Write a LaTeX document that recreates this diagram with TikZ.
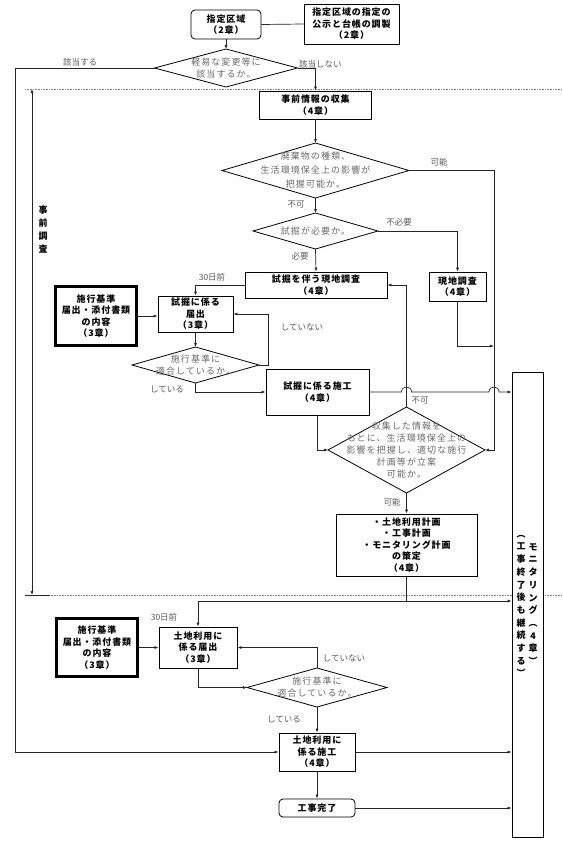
\documentclass[tikz,border=0pt]{standalone}
\usepackage{fontspec}
\setmainfont{Noto Sans CJK JP}
\newfontfamily\jpbox{Noto Sans CJK JP}[LetterSpace=10]
\newfontfamily\jpdia{Noto Sans CJK JP}[LetterSpace=12]
\usetikzlibrary{arrows.meta,calc}
\definecolor{diagray}{HTML}{6A6A6A}
\definecolor{labgray}{HTML}{5A5A5A}
\definecolor{linegray}{HTML}{262626}
\newcommand\mydiamond[6]{%
  \coordinate (#1n) at (#2,{#3-#5/2});
  \coordinate (#1s) at (#2,{#3+#5/2});
  \coordinate (#1w) at ({#2-#4/2},#3);
  \coordinate (#1e) at ({#2+#4/2},#3);
  \draw[diaframe] (#1n)--(#1e)--(#1s)--(#1w)--cycle;
  \node[diatext] (#1) at (#2,#3) {#6};
}
\begin{document}
\begin{tikzpicture}[x=1pt,y=-1pt,
 pbox/.style={draw=black, line width=0.8pt, fill=white, align=center, inner sep=0pt, font=\jpbox\bfseries\fontsize{9}{11.5}\selectfont},
 thickbox/.style={pbox, line width=2.2pt},
 rbox/.style={pbox, rounded corners=4pt},
 diaframe/.style={draw=black, line width=0.8pt},
 diatext/.style={align=center, inner sep=0pt, text=diagray, font=\jpdia\fontsize{9}{12}\selectfont},
 lab/.style={inner sep=0pt, text=labgray, font=\fontsize{8.5}{10}\selectfont},
 conn/.style={draw=linegray, line width=0.7pt},
 arr/.style={conn, -{Latex[length=4pt,width=3pt]}},
 dotline/.style={draw=gray, line width=0.6pt, dash pattern=on 0.8pt off 0.8pt},
 vtext/.style={align=center, inner sep=0pt, font=\bfseries\fontsize{9}{12.7}\selectfont}
]
\fill[white] (0,0) rectangle (562,843);
\useasboundingbox (0,0) rectangle (562,843);

% dotted separators
\draw[dotline] (25,89) -- (562,89);
\draw[dotline] (25,595) -- (562,595);
\draw[conn] (25,595) -- (50,595);

% boxes
\node[rbox, minimum width=70pt, minimum height=29pt] (n1) at (226,24.5) {指定区域\\（2章）};
\node[pbox, minimum width=95pt, minimum height=40pt] (n2) at (351.5,24) {指定区域の指定の\\公示と台帳の調製\\（2章）};
\node[pbox, minimum width=112pt, minimum height=28pt] (n3) at (315.5,105) {事前情報の収集\\（4章）};
\node[pbox, minimum width=142pt, minimum height=26pt] (n4) at (316,285) {試掘を伴う現地調査\\（4章）};
\node[pbox, minimum width=57pt, minimum height=29pt] (n5) at (457.5,286.5) {現地調査\\（4章）};
\node[pbox, minimum width=75pt, minimum height=36pt] (n6) at (195.5,314) {試掘に係る\\届出\\（3章）};
\node[thickbox, minimum width=81pt, minimum height=59pt] (n7) at (96,316) {施行基準\\届出・添付書類\\の内容\\（3章）};
\node[pbox, minimum width=103pt, minimum height=46pt] (n8) at (317.5,392) {試掘に係る施工\\（4章）};
\node[pbox, minimum width=141pt, minimum height=62pt] (n9) at (406.5,545) {・土地利用計画\\・工事計画\\・モニタリング計画\\の策定\\（4章）};
\node[pbox, minimum width=78pt, minimum height=41pt] (n10) at (198,647.5) {土地利用に\\係る届出\\（3章）};
\node[thickbox, minimum width=81pt, minimum height=58pt] (n11) at (97,647.5) {施行基準\\届出・添付書類\\の内容\\（3章）};
\node[pbox, minimum width=76pt, minimum height=38pt] (n12) at (317,752) {土地利用に\\係る施工\\（4章）};
\node[rbox, minimum width=76pt, minimum height=18pt] (n13) at (317,808) {工事完了};
\node[pbox, minimum width=31pt, minimum height=465pt] (mon) at (527.5,604.5) {};
\node[vtext] (monR) at (533,604) {モ\\ニ\\タ\\リ\\ン\\グ\\︵\\4\\章\\︶};
\node[vtext] (monL) at (521,606) {︵\\工\\事\\終\\了\\後\\も\\継\\続\\す\\る\\︶};
\node[vtext, font=\bfseries\fontsize{9}{13}\selectfont] (jizen) at (43,229.5) {事\\前\\調\\査};

% diamonds
\mydiamond{d1}{226}{68}{143}{38}{軽易な変更等に\\該当するか。}
\mydiamond{d2}{315.5}{170.5}{187}{55}{廃棄物の種類、\\[2pt]生活環境保全上の影響が\\[2pt]把握可能か。}
\mydiamond{d3}{315.5}{231}{125}{36}{試掘が必要か。}
\mydiamond{d4}{195.5}{365}{127}{36}{施行基準に\\適合しているか。}
\mydiamond{d5}{406.5}{450}{157}{86}{収集した情報を\\もとに、生活環境保全上の\\影響を把握し、適切な施行\\計画等が立案\\可能か。}
\mydiamond{d6}{317}{687.5}{140}{39}{施行基準に\\適合しているか。}

% helper coordinates
\coordinate (cL) at (15,68);
\coordinate (cR2) at (494,170.5);
\coordinate (cJ) at (494,346);
\coordinate (cR4) at (268,365);
\coordinate (cA) at (198,601);
\coordinate (cT) at (32,89);
\coordinate (cB) at (32,595);

% connectors
\draw[conn] (n1.east) -- (n2.west);
\draw[arr] (n1.south) -- (d1n);
\draw[arr] (d1w) -- (cL) |- (n12.west);
\draw[arr] (d1e) -| (n3.north);
\draw[arr] (n3.south) -- (d2n);
\draw[arr] (d2s) -- (d3n);
\draw[arr] (d2e) -- (cR2) |- (d5e);
\draw[arr] (d3e) -| (n5.north);
\draw[arr] (d3s) -- (n4.north);
\draw[arr] (n5.south) |- (cJ);
\draw[arr] (n4.west) -| (n6.north);
\draw[arr] (n7.east) -- (n7.east -| n6.west);
\draw[arr] (n6.south) -- (d4n);
\draw[arr] (d4e) -- (cR4) |- (n6.east);
\draw[arr] (d4s) |- (n8.west);
\draw[arr] (n8.east) -- (401.5,392) .. controls (401.5,385.3) and (411.5,385.3) .. (411.5,392)
  -- (489,392) .. controls (489,385.3) and (499,385.3) .. (499,392) -- (n8.east -| mon.west);
\draw[arr] (d5n) |- (n4.east);
\draw[arr] (n8.south) |- (d5w);
\draw[arr] (d5s) -- (n9.north);
\draw[conn] (n9.south) -- (n9.south |- cA);
\draw[arr] (cA) -- (cA -| mon.west);
\draw[arr] (cA) -- (n10.north);
\draw[arr] (n11.east) -- (n11.east -| n10.west);
\draw[arr] (n10.south) |- (d6w);
\draw[arr] (d6n) |- (n10.east);
\draw[arr] (d6s) -- (n12.north);
\draw[arr] (n12.east) -- (n12.east -| mon.west);
\draw[arr] (n12.south) -- (n13.north);
\draw[arr] (n13.east) -- (n13.east -| mon.west);
\draw[conn, {Latex[length=4pt,width=3pt]}-{Latex[length=4pt,width=3pt]}] (cT) -- (cB);

% labels
\node[lab] (l1) at (80,62) {該当する};
\node[lab, anchor=west] (l2) at (299,64) {該当しない};
\node[lab] (l3) at (439,162) {可能};
\node[lab] (l4) at (296,205) {不可};
\node[lab] (l5) at (399,222) {不必要};
\node[lab] (l6) at (300,256) {必要};
\node[lab] (l7) at (212,277) {30日前};
\node[lab] (l8) at (302,327) {していない};
\node[lab] (l9) at (167,389) {している};
\node[lab] (l10) at (420,401) {不可};
\node[lab] (l11) at (392,502) {可能};
\node[lab] (l12) at (164,617) {30日前};
\node[lab] (l13) at (344,658) {していない};
\node[lab] (l14) at (284,719) {している};
\end{tikzpicture}
\end{document}
